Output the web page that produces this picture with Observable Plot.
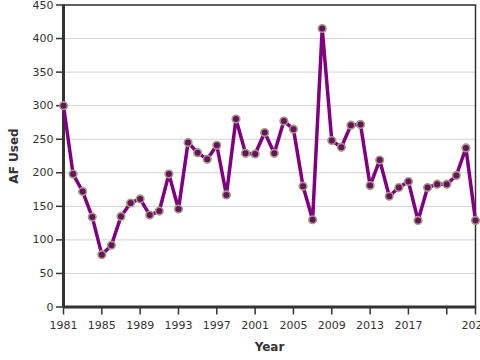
<!DOCTYPE html>
<html>
<head>
<meta charset="utf-8">
<script src="https://cdn.jsdelivr.net/npm/d3@7"></script>
<script src="https://cdn.jsdelivr.net/npm/@observablehq/plot@0.6"></script>
<style>
  html, body { margin: 0; padding: 0; background: #fff; }
  #chart svg { font-family: "DejaVu Sans", sans-serif; }
  #chart svg [aria-label$="axis label"] text { font-weight: bold; font-size: 12px; }
</style>
</head>
<body>
<div id="chart"></div>
<script>
const years = d3.range(1981, 2025);
const afUsed = [300, 198, 172, 134, 78, 92, 135, 155, 161, 137,
                143, 198, 146, 245, 230, 220, 241, 167, 280, 229,
                228, 260, 229, 277, 265, 180, 130, 415, 248, 238,
                271, 272, 181, 219, 165, 178, 187, 129, 178, 183,
                183, 196, 237, 129];
const xTicks = [1981, 1985, 1989, 1993, 1997, 2001, 2005, 2009, 2013, 2017, 2021, 2024];
const xTickLabels = ["1981", "1985", "1989", "1993", "1997", "2001", "2005", "2009", "2013", "2017", "", "2024"];
const yTicks = [0, 50, 100, 150, 200, 250, 300, 350, 400, 450];

const data = years.map((y, i) => ({year: y, value: afUsed[i]}));

const chart = Plot.plot({
  width: 480,
  height: 360,
  marginLeft: 63,
  marginRight: 5,
  marginTop: 4.5,
  marginBottom: 53.5,
  style: {fontFamily: "DejaVu Sans, sans-serif", fontSize: "11px", color: "#333", background: "#fff", overflow: "visible"},
  x: {domain: [1981, 2024]},
  y: {domain: [0, 450]},
  marks: [
    Plot.ruleY(yTicks.slice(1), {stroke: "#d3d3d3", strokeWidth: 1}),
    Plot.frame({stroke: "#333", strokeWidth: 1.5}),
    Plot.axisX({ticks: xTicks, tickFormat: d => xTickLabels[xTicks.indexOf(d)], tickSize: 8, tickPadding: 6, stroke: "#333", strokeWidth: 1.5,
      label: "Year", labelAnchor: "center", labelOffset: 44, labelArrow: false, fill: "#333"}),
    Plot.axisY({ticks: yTicks, tickSize: 7, tickPadding: 3, stroke: "#333", strokeWidth: 1.5,
      label: "AF Used", labelAnchor: "center", labelOffset: 54, labelArrow: false, fill: "#333"}),
    Plot.ruleY([0], {stroke: "#333", strokeWidth: 3}),
    Plot.ruleX([1981], {stroke: "#333", strokeWidth: 3}),
    Plot.line(data, {x: "year", y: "value", stroke: "#800080", strokeWidth: 3.5, curve: "linear"}),
    Plot.dot(data, {x: "year", y: "value", r: 3.8, fill: "#6a1060", stroke: "#a39c80", strokeWidth: 1.6})
  ]
});
document.getElementById("chart").appendChild(chart);
</script>
</body>
</html>
